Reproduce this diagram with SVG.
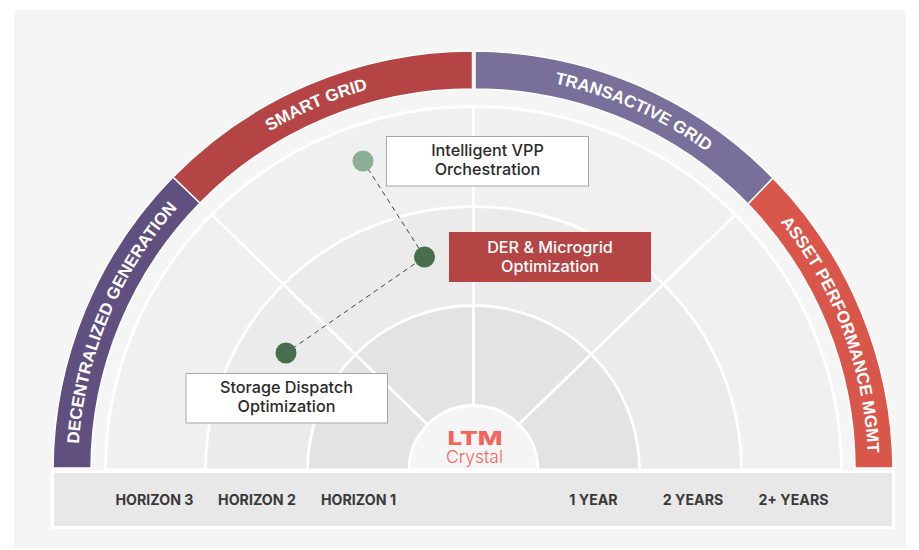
<svg xmlns="http://www.w3.org/2000/svg" width="919" height="550" viewBox="0 0 919 550">
<style>
.band{font:bold 17px "Liberation Sans",Arial,sans-serif;fill:#fff;text-anchor:middle}
.ring{stroke:#fff;stroke-width:2.800}
.spoke{stroke:#fff;stroke-width:2.800;fill:none}
.seg{stroke:#fff;stroke-width:1.500}
.lab{font:500 16.200px Inter,"Liberation Sans",sans-serif;text-anchor:middle;fill:#2b2b2b}
.axis{font:700 14.200px Inter,"Liberation Sans",sans-serif;text-anchor:middle;fill:#3a3a3a}
.box{fill:#fff;stroke:#a6a6a6;stroke-width:1}
.link{stroke:#444;stroke-width:1;stroke-dasharray:5 4;fill:none}
</style>
<defs><path id="arcText" d="M78 470A395 395 0 0 1 868 470"/></defs>
<rect width="919" height="550" fill="#fff"/>
<rect x="14" y="10" width="892" height="538" fill="#f5f5f5"/>
<g id="bands">
<path class="seg" fill="#5f5080" d="M53 468A420 420 0 0 1 173 177L200 203A382 382 0 0 0 91 468Z"/>
<path class="seg" fill="#b54545" d="M173 177A420 420 0 0 1 472.500 51V89A382 382 0 0 0 200 203Z"/>
<path class="seg" fill="#786f9a" d="M475 51A420 420 0 0 1 773 178L748 204A382 382 0 0 0 475 89Z"/>
<path class="seg" fill="#d9564a" d="M773 178A420 420 0 0 1 893 468H855A382 382 0 0 0 748 204Z"/>
<text class="band"><textPath href="#arcText" startOffset="12.600%">DECENTRALIZED GENERATION</textPath></text>
<text class="band"><textPath href="#arcText" startOffset="37.100%">SMART GRID</textPath></text>
<text class="band"><textPath href="#arcText" startOffset="63.400%">TRANSACTIVE GRID</textPath></text>
<text class="band"><textPath href="#arcText" startOffset="88.500%">ASSET PERFORMANCE MGMT</textPath></text>
</g>
<g id="rings">
<path class="ring" fill="#f0f0f0" d="M105.500 470A368 363.500 0 0 1 841.500 470Z"/>
<path class="ring" fill="#ebebeb" d="M205.500 470A268 263.500 0 0 1 741.500 470Z"/>
<path class="ring" fill="#e3e3e3" d="M307.500 470A166 164.500 0 0 1 639.500 470Z"/>
<path class="spoke" d="M473.500 107V406M212 215L428 425M735 215L518 425"/>
<path class="ring" fill="#f5f5f5" d="M409 470A64.500 64.500 0 0 1 538 470Z"/>
</g>
<g id="axis">
<rect x="52.500" y="471.500" width="841" height="56" fill="#e8e8e8" stroke="#fff" stroke-width="3"/>
<text class="axis" x="154.500" y="505">HORIZON 3</text>
<text class="axis" x="257" y="505">HORIZON 2</text>
<text class="axis" x="358.500" y="505">HORIZON 1</text>
<text class="axis" x="593.500" y="505">1 YEAR</text>
<text class="axis" x="693" y="505">2 YEARS</text>
<text class="axis" x="793.500" y="505">2+ YEARS</text>
</g>
<g id="logo">
<text x="447.500" y="445" textLength="55" lengthAdjust="spacingAndGlyphs" style="font:800 19px Inter,'Liberation Sans',sans-serif" fill="#f4645a">LTM</text>
<text x="474.500" y="463" text-anchor="middle" style="font:300 17.500px Inter,'Liberation Sans',sans-serif" fill="#f4645a">Crystal</text>
</g>
<g id="connectors">
<path class="link" d="M363 161L424.500 257L286 353"/>
</g>
<g id="node-vpp">
<circle cx="363" cy="161" r="10.500" fill="#8aaf95"/>
<rect class="box" x="386.500" y="136.500" width="202" height="49.500"/>
<text class="lab" x="487.500" y="156">Intelligent VPP</text>
<text class="lab" x="487.500" y="175">Orchestration</text>
</g>
<g id="node-der">
<circle cx="424.500" cy="257" r="10.500" fill="#476f4d"/>
<rect x="449" y="232" width="202" height="50" fill="#b54545"/>
<text class="lab" x="550" y="253" style="fill:#fff">DER &amp; Microgrid</text>
<text class="lab" x="550" y="272" style="fill:#fff">Optimization</text>
</g>
<g id="node-storage">
<circle cx="286" cy="353" r="10.500" fill="#476f4d"/>
<rect class="box" x="186" y="373.500" width="201.500" height="49.500"/>
<text class="lab" x="286.500" y="393">Storage Dispatch</text>
<text class="lab" x="286.500" y="412">Optimization</text>
</g>
</svg>
